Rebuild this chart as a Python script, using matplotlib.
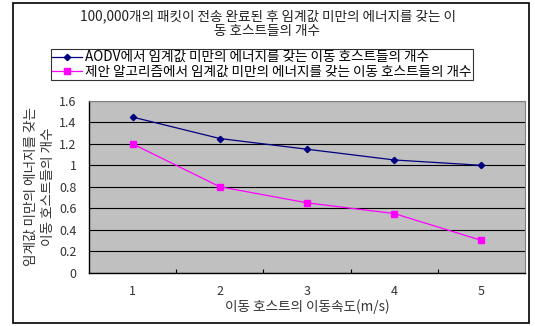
import matplotlib
matplotlib.use('Agg')
import matplotlib.pyplot as plt
from matplotlib.patches import Rectangle

plt.rcParams['font.family'] = ['Noto Sans CJK KR', 'DejaVu Sans']

speeds = [1, 2, 3, 4, 5]
aodv = [1.45, 1.25, 1.15, 1.05, 1.0]
proposed = [1.2, 0.8, 0.65, 0.55, 0.3]
yticks = [0, 0.2, 0.4, 0.6, 0.8, 1, 1.2, 1.4, 1.6]
ytick_labels = ['0', '0.2', '0.4', '0.6', '0.8', '1', '1.2', '1.4', '1.6']

FS = 9
FS_BIG = 9.8
W, H = 535, 326
fig = plt.figure(figsize=(W / 100, H / 100), dpi=100)
ax = fig.add_axes([89 / W, 1 - 272.5 / H, (525 - 89) / W, (272.5 - 101) / H])
ax.set_facecolor('#c0c0c0')

l1, = ax.plot(speeds, aodv, color='#000080', lw=0.9, marker='D', ms=3.2,
              label='AODV에서 임계값 미만의 에너지를 갖는 이동 호스트들의 개수')
l2, = ax.plot(speeds, proposed, color='#ff00ff', lw=0.9, marker='s', ms=4.2,
              label='제안 알고리즘에서 임계값 미만의 에너지를 갖는 이동 호스트들의 개수')

ax.set_xlim(0.5, 5.5)
ax.set_ylim(0, 1.6)
ax.set_yticks(yticks)
ax.set_yticklabels(ytick_labels)
ax.yaxis.grid(True, color='black', lw=0.8)
ax.set_axisbelow(True)

# category ticks sit between the points, labels under the points
ax.set_xticks([1.5, 2.5, 3.5, 4.5], minor=False)
ax.set_xticklabels([])
ax.set_xticks(speeds, minor=True)
ax.set_xticklabels([str(s) for s in speeds], minor=True)
ax.tick_params(axis='x', which='major', direction='in', length=3, width=0.8)
ax.tick_params(axis='x', which='minor', length=0, pad=9, labelsize=FS, colors='#333333')
ax.tick_params(axis='y', length=0, pad=9, labelsize=FS, colors='#333333')

for side in ['top', 'right']:
    ax.spines[side].set_color('#808080')
    ax.spines[side].set_linewidth(0.8)
for side in ['left', 'bottom']:
    ax.spines[side].set_color('black')
    ax.spines[side].set_linewidth(1.0)

ax.set_xlabel('이동 호스트의 이동속도(m/s)', fontsize=FS_BIG, color='#333333', labelpad=1)
ax.set_ylabel('임계값 미만의 에너지를 갖는\n이동 호스트들의 개수', fontsize=FS_BIG,
              color='#333333', linespacing=1.25, labelpad=3)

fig.text(0.5, 1 - 24 / H, '100,000개의 패킷이 전송 완료된 후 임계값 미만의 에너지를 갖는 이\n동 호스트들의 개수',
         ha='center', va='center', fontsize=FS_BIG, color='#222222', linespacing=1.05)

leg = fig.legend(handles=[l1, l2], loc='upper left', bbox_to_anchor=(51 / W, 1 - 49 / H),
                 fontsize=FS_BIG, frameon=True, fancybox=False, edgecolor='black',
                 borderpad=0.1, labelspacing=0.05, handlelength=2.2, handletextpad=0.2,
                 borderaxespad=0)
leg.get_frame().set_linewidth(0.8)

fig.patches.append(Rectangle((13 / W, 1 - 323 / H), (529 - 13) / W, (323 - 3) / H,
                             transform=fig.transFigure, fill=False, ec='black', lw=1.2))

fig.savefig('out.png', dpi=100)
